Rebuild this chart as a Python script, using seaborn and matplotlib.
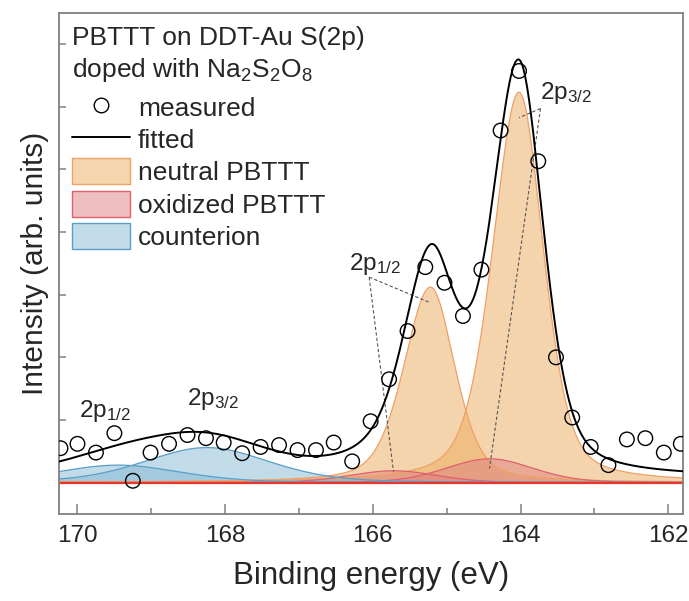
import numpy as np
import pandas as pd
import matplotlib
matplotlib.use("Agg")
import matplotlib.pyplot as plt
import seaborn as sns
from matplotlib.patches import Patch
from matplotlib.lines import Line2D
from matplotlib.ticker import MultipleLocator

sns.set_theme(style="white")
plt.rcParams["font.family"] = ["Liberation Sans", "DejaVu Sans"]
plt.rcParams["mathtext.fontset"] = "custom"
plt.rcParams["mathtext.rm"] = "Liberation Sans"
plt.rcParams["mathtext.it"] = "Liberation Sans:italic"

energy = [170.23, 170.00, 169.75, 169.50, 169.25, 169.01, 168.76, 168.51, 168.26,
          168.02, 167.77, 167.52, 167.27, 167.02, 166.77, 166.53, 166.28, 166.03,
          165.78, 165.53, 165.29, 165.03, 164.78, 164.53, 164.27, 164.02, 163.76,
          163.52, 163.30, 163.05, 162.81, 162.56, 162.31, 162.06, 161.83]
intensity = [0.55, 0.62, 0.48, 0.79, 0.03, 0.48, 0.62, 0.76, 0.71,
             0.64, 0.47, 0.57, 0.60, 0.52, 0.52, 0.64, 0.34, 0.98,
             1.65, 2.42, 3.44, 3.19, 2.66, 3.40, 5.62, 6.57, 5.13,
             2.00, 1.04, 0.57, 0.28, 0.69, 0.71, 0.48, 0.62]

# ---- fitted components (peak parameters) ----
comp_group = ["neutral PBTTT", "neutral PBTTT", "oxidized PBTTT", "oxidized PBTTT",
              "counterion", "counterion"]
comp_center = [164.02, 165.22, 164.42, 165.72, 168.25, 169.45]
comp_height = [6.23, 3.12, 0.38, 0.19, 0.56, 0.28]
comp_fwhm_low = [0.78, 0.78, 1.40, 1.40, 2.00, 2.00]    # low binding-energy side
comp_fwhm_high = [0.85, 0.85, 1.40, 1.40, 2.00, 2.00]   # high binding-energy side
comp_eta = [0.40, 0.40, 0.20, 0.20, 0.30, 0.30]
background = 0.08

group_face = {"neutral PBTTT": "#ebab5d", "oxidized PBTTT": "#df7f81", "counterion": "#85b9d5"}
group_edge = {"neutral PBTTT": "#f0a064", "oxidized PBTTT": "#e0606e", "counterion": "#5a9fc8"}

xgrid = np.linspace(161.7, 170.4, 1400)


def pvoigt(x, c, h, wl, wh, eta):
    w = np.where(x > c, wh, wl)
    g = np.exp(-4 * np.log(2) * ((x - c) / w) ** 2)
    l = 1.0 / (1.0 + (2 * (x - c) / w) ** 2)
    return h * (eta * l + (1 - eta) * g)


comps = [pvoigt(xgrid, c, h, wl, wh, e) for c, h, wl, wh, e in
         zip(comp_center, comp_height, comp_fwhm_low, comp_fwhm_high, comp_eta)]
fitted = np.sum(comps, axis=0) + background

fig = plt.figure(figsize=(6.89, 6.01), dpi=100)
ax = fig.add_axes([59 / 689, 1 - 514 / 601, 624 / 689, 501.3 / 601])

# component fills
for grp, y in zip(comp_group, comps):
    ax.fill_between(xgrid, 0, y, facecolor=group_face[grp], alpha=0.5,
                    edgecolor="none", zorder=1)
    ax.plot(xgrid, y, color=group_edge[grp], lw=0.9, zorder=2)

ax.axhline(0, color="#e8352d", lw=1.6, zorder=2)

fit_df = pd.DataFrame({"E": xgrid, "I": fitted})
sns.lineplot(data=fit_df, x="E", y="I", color="black", lw=1.4, ax=ax, zorder=4,
             sort=False, estimator=None)

meas_df = pd.DataFrame({"E": energy, "I": intensity})
sns.scatterplot(data=meas_df, x="E", y="I", marker="o", s=110, facecolor="none",
                edgecolor="black", linewidth=1.0, ax=ax, zorder=5, clip_on=True)

# annotation dashed leader lines
dash_kw = dict(color="#555555", lw=0.8, ls=(0, (3, 2)), zorder=3)
anchor_12 = (166.05, 3.28)
anchor_32 = (163.73, 5.97)
for idx, frac in [(1, 0.92), (3, 0.92)]:
    ax.plot([anchor_12[0], comp_center[idx]], [anchor_12[1], comp_height[idx] * frac], **dash_kw)
for idx, frac in [(0, 0.935), (2, 0.6)]:
    ax.plot([anchor_32[0], comp_center[idx]], [anchor_32[1], comp_height[idx] * frac], **dash_kw)

lab_fs = 17.5
ax.text(169.98, 1.05, r"2p$_{\mathregular{1/2}}$", fontsize=lab_fs, ha="left", va="baseline")
ax.text(168.51, 1.24, r"2p$_{\mathregular{3/2}}$", fontsize=lab_fs, ha="left", va="baseline")
ax.text(166.32, 3.39, r"2p$_{\mathregular{1/2}}$", fontsize=lab_fs, ha="left", va="baseline")
ax.text(163.74, 6.13, r"2p$_{\mathregular{3/2}}$", fontsize=lab_fs, ha="left", va="baseline")

# title lines
txt_fs = 19
ax.text(13 / 624, (514 - 45) / 501.3, "PBTTT on DDT-Au S(2p)", transform=ax.transAxes,
        fontsize=txt_fs, ha="left", va="baseline")
ax.text(13 / 624, (514 - 77) / 501.3,
        r"doped with Na$_{\mathregular{2}}$S$_{\mathregular{2}}$O$_{\mathregular{8}}$",
        transform=ax.transAxes, fontsize=txt_fs, ha="left", va="baseline")

handles = [
    Line2D([], [], ls="none", marker="o", markersize=10.5, markerfacecolor="none",
           markeredgecolor="black", markeredgewidth=1.0),
    Line2D([], [], color="black", lw=1.4),
    Patch(facecolor="#f5d5ae", edgecolor=group_edge["neutral PBTTT"], lw=1.0),
    Patch(facecolor="#efbfc0", edgecolor=group_edge["oxidized PBTTT"], lw=1.0),
    Patch(facecolor="#c2dcea", edgecolor=group_edge["counterion"], lw=1.0),
]
labels = ["measured", "fitted", "neutral PBTTT", "oxidized PBTTT", "counterion"]
ax.legend(handles, labels, loc="upper left", bbox_to_anchor=(13 / 624, (514 - 94) / 501.3),
          frameon=False, fontsize=txt_fs, handlelength=2.2, handleheight=1.14,
          handletextpad=0.3, labelspacing=0.2, borderpad=0, borderaxespad=0)

ax.set_xlim(170.25, 161.8)
ax.set_ylim(-0.5, 7.5)
ax.xaxis.set_major_locator(MultipleLocator(2))
ax.xaxis.set_minor_locator(MultipleLocator(1))
ax.set_yticks(range(0, 8))
ax.set_yticklabels([])
ax.tick_params(axis="x", which="major", direction="in", length=7, width=1.1,
               color="#808080", labelsize=17.5, pad=8, bottom=True)
ax.tick_params(axis="x", which="minor", direction="in", length=4, width=1.1,
               color="#808080", bottom=True)
ax.tick_params(axis="y", which="major", direction="in", length=5, width=1.1,
               color="#808080", left=True)
for s in ax.spines.values():
    s.set_color("#808080")
    s.set_linewidth(1.3)

ax.set_xlabel("Binding energy (eV)", fontsize=22.5, labelpad=10)
ax.set_ylabel("Intensity (arb. units)", fontsize=21.5, labelpad=4)

fig.savefig("out.png", dpi=100)
